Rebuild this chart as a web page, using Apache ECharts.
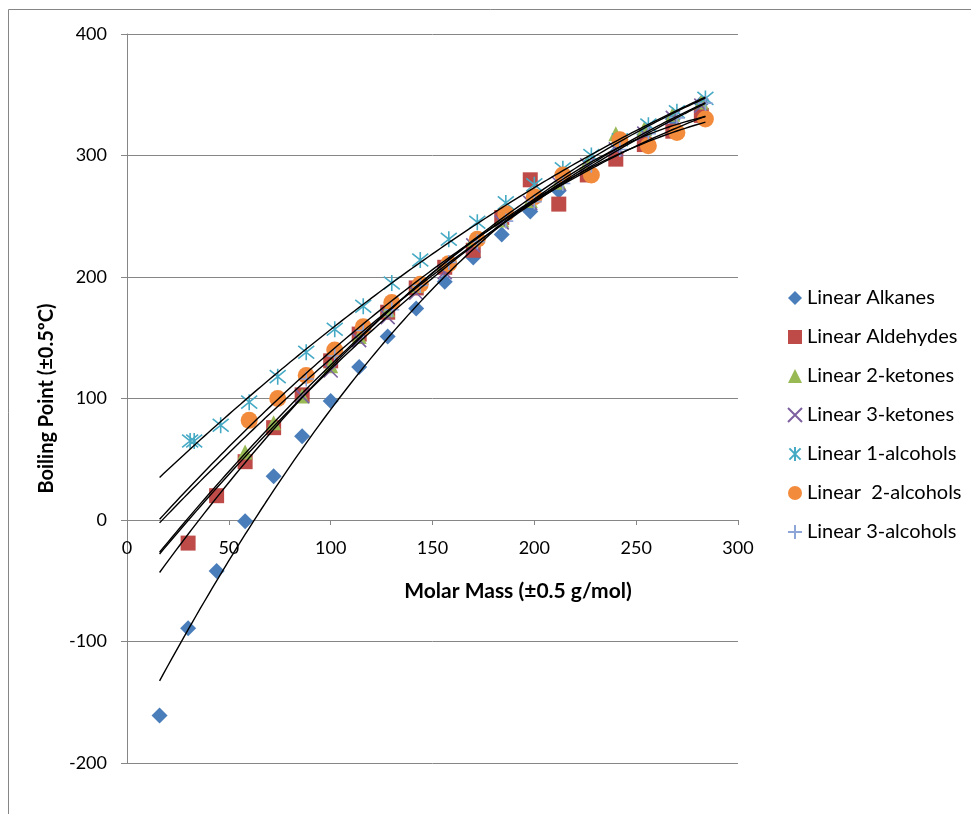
<!DOCTYPE html>
<html>
<head>
<meta charset="utf-8">
<script src="https://cdn.jsdelivr.net/npm/echarts@6/dist/echarts.min.js"></script>
<style>html,body{margin:0;padding:0;background:#fff}#main{width:971px;height:814px}</style>
</head>
<body>
<div id="main"></div>
<script>
// ---- data (molar mass g/mol, boiling point ºC) ----
const seriesNames = ['Linear Alkanes', 'Linear Aldehydes', 'Linear 2-ketones', 'Linear 3-ketones', 'Linear 1-alcohols', 'Linear  2-alcohols', 'Linear 3-alcohols'];

const massAlkanes = [16,30,44,58,72,86,100,114,128,142,156,170,184,198,212,226,240,254,268,282];
const bpAlkanes   = [-161,-89,-42,-1,36,69,98,126,151,174,196,216,235,254,271,287,302,317,330,343];

const massAldehydes = [30,44,58,72,86,100,114,128,142,156,170,184,198,212,226,240,254,268,282];
const bpAldehydes   = [-19,20,48,76,103,131,153,171,191,208,222,249,280,260,284,297,309,320,333];

const mass2Ketones = [58,72,86,100,114,128,142,156,170,184,198,212,226,240,254,268,282];
const bp2Ketones   = [56,80,102,127,151,173,193,211,231,247,263,278,294,318,322,334,344];

const mass3Ketones = [86,100,114,128,142,156,170,184,198,212,226,240,254,268,282];
const bp3Ketones   = [102,123,148,167,187,204,226,245,261,277,292,305,318,331,341];

const mass1Alcohols = [31,33,46,60,74,88,102,116,130,144,158,172,186,200,214,228,242,256,270,284];
const bp1Alcohols   = [65,65,78,97,118,138,157,176,195,214,231,245,261,276,289,300,313,325,336,347];

const mass2Alcohols = [60,74,88,102,116,130,144,158,172,186,200,214,228,242,256,270,284];
const bp2Alcohols   = [82,100,119,140,159,179,194,211,231,252,266,284,284,313,308,319,330];

const mass3Alcohols = [88,102,116,130,144,158,172,186,200,214,228,242,256,270,284];
const bp3Alcohols   = [116,135,156,173,193,212,229,246,262,277,292,305,318,331,343];

const xTicks = [0,50,100,150,200,250,300];
const yTicks = [-200,-100,0,100,200,300,400];
const trendRange = [16, 284];

// ---- styling ----
const FONT = 'Lato, "Open Sans", sans-serif';
const GRAY = '#868686';
const colors = ['#4A7EBB', '#BE4B48', '#98B954', '#7D60A0', '#46AAC5', '#F38B3C', '#8EA5D8'];
const symbols = [
  'diamond', 'rect', 'triangle',
  'path://M1,1L9,9M9,1L1,9',
  'path://M1,1L9,9M9,1L1,9M5,0L5,10',
  'circle',
  'path://M0,5L10,5M5,0L5,10'
];
const sizes = [16, 15, 15, 14, 16, 17, 15];
const strokeOnly = [false, false, false, true, true, false, true];

const masses = [massAlkanes, massAldehydes, mass2Ketones, mass3Ketones, mass1Alcohols, mass2Alcohols, mass3Alcohols];
const bps = [bpAlkanes, bpAldehydes, bp2Ketones, bp3Ketones, bp1Alcohols, bp2Alcohols, bp3Alcohols];

// quadratic least-squares trendline (as Excel polynomial order 2)
function quadFit(xs, ys) {
  let S = [0,0,0,0,0], T = [0,0,0];
  for (let i = 0; i < xs.length; i++) {
    const x = xs[i], y = ys[i];
    let p = 1;
    for (let k = 0; k < 5; k++) { S[k] += p; if (k < 3) T[k] += p * y; p *= x; }
  }
  const A = [[S[0],S[1],S[2],T[0]],[S[1],S[2],S[3],T[1]],[S[2],S[3],S[4],T[2]]];
  for (let c = 0; c < 3; c++) {
    let piv = c;
    for (let r = c+1; r < 3; r++) if (Math.abs(A[r][c]) > Math.abs(A[piv][c])) piv = r;
    [A[c], A[piv]] = [A[piv], A[c]];
    for (let r = 0; r < 3; r++) {
      if (r === c) continue;
      const f = A[r][c] / A[c][c];
      for (let k = c; k < 4; k++) A[r][k] -= f * A[c][k];
    }
  }
  return [A[0][3]/A[0][0], A[1][3]/A[1][1], A[2][3]/A[2][2]];
}

const series = [];
seriesNames.forEach((name, i) => {
  series.push({
    name: name,
    type: 'scatter',
    symbol: symbols[i],
    symbolSize: sizes[i],
    data: masses[i].map((m, j) => [m, bps[i][j]]),
    itemStyle: strokeOnly[i]
      ? { color: colors[i], borderColor: colors[i], borderWidth: 1.6, opacity: 1 }
      : { color: colors[i], opacity: 1 },
    z: 2
  });
});
seriesNames.forEach((name, i) => {
  const c = quadFit(masses[i], bps[i]);
  const pts = [];
  for (let x = trendRange[0]; x <= trendRange[1] + 1e-9; x += 2) pts.push([x, c[0] + c[1]*x + c[2]*x*x]);
  series.push({
    name: 'trend ' + name,
    type: 'line',
    data: pts,
    showSymbol: false,
    silent: true,
    lineStyle: { color: '#000', width: 1.4 },
    z: 5
  });
});

// grid geometry: x axis drawn where y = 0
const GRID = { left: 127, top: 34, width: 611, height: 729 };
const yMin = yTicks[0], yMax = yTicks[yTicks.length-1];
const xAxisOffset = -GRID.height * (0 - yMin) / (yMax - yMin);

const chart = echarts.init(document.getElementById('main'));
chart.setOption({
  animation: false,
  backgroundColor: '#fff',
  textStyle: { fontFamily: FONT },
  graphic: [{
    type: 'rect', silent: true,
    shape: { x: 8.5, y: 9.5, width: 975, height: 820 },
    style: { fill: 'none', stroke: GRAY, lineWidth: 1 }
  }],
  grid: GRID,
  legend: {
    data: seriesNames,
    orient: 'vertical',
    left: 787, top: 288, padding: 0,
    itemWidth: 14, itemHeight: 14, itemGap: 19,
    textStyle: { fontFamily: FONT, fontSize: 20, color: '#000', lineHeight: 18 }
  },
  xAxis: {
    type: 'value', min: xTicks[0], max: xTicks[xTicks.length-1], interval: 50,
    position: 'bottom', offset: xAxisOffset,
    axisLine: { show: true, onZero: false, lineStyle: { color: GRAY, width: 1 } },
    axisTick: { show: true, length: 5, lineStyle: { color: GRAY } },
    splitLine: { show: false },
    axisLabel: { margin: 19, fontSize: 18, color: '#000', fontFamily: FONT },
    name: 'Molar Mass (±0.5 g/mol)',
    nameLocation: 'middle', nameGap: 61,
    nameTextStyle: { fontSize: 21, fontWeight: 'bold', color: '#000', fontFamily: FONT, padding: [0,0,0,171] }
  },
  yAxis: {
    type: 'value', min: yMin, max: yMax, interval: 100,
    axisLine: { show: true, onZero: false, lineStyle: { color: GRAY, width: 1 } },
    axisTick: { show: true, length: 6, lineStyle: { color: GRAY } },
    splitLine: { show: true, lineStyle: { color: GRAY, width: 1 } },
    axisLabel: { margin: 20, fontSize: 18, color: '#000', fontFamily: FONT },
    name: 'Boiling Point (±0.5ºC)',
    nameLocation: 'middle', nameGap: 70, nameRotate: 90,
    nameTextStyle: { fontSize: 20, fontWeight: 'bold', color: '#000', fontFamily: FONT }
  },
  series: series
});
</script>
</body>
</html>
